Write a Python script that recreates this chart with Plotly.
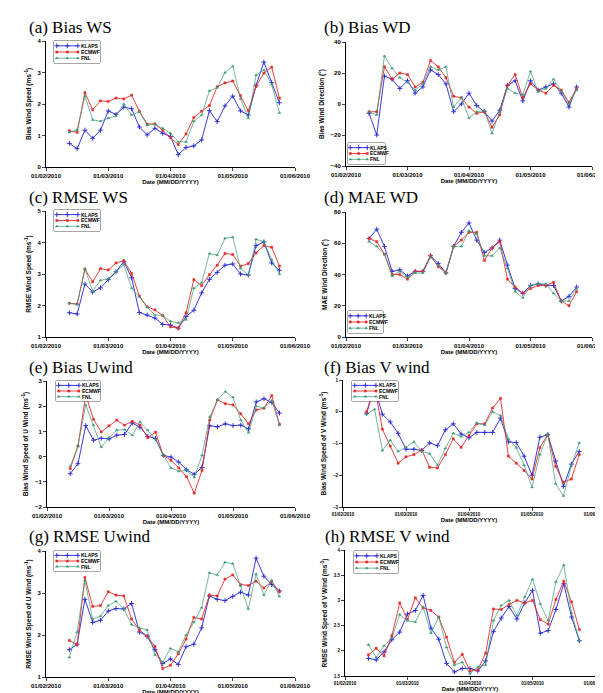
import plotly.graph_objects as go

# period index (each step ~ 1/8 month); tick positions mark month starts
period = [3, 4, 5, 6, 7, 8, 9, 10, 11, 12, 13, 14, 15, 16, 17, 18, 19, 20,
          21, 22, 23, 24, 25, 26, 27, 28, 29, 30]
tick_pos = [0, 8, 16, 24, 32]
tick_lab = ["01/02/2010", "01/03/2010", "01/04/2010", "01/05/2010", "01/06/2010"]
series_names = ["KLAPS", "ECMWF", "FNL"]

# (a) Bias WS
a_klaps = [0.75, 0.58, 1.17, 0.91, 1.17, 1.78, 1.67, 1.90, 1.85, 1.27, 1.02, 1.23, 1.07, 0.97,
           0.39, 0.62, 0.67, 0.86, 1.79, 1.44, 1.94, 2.25, 1.78, 1.65, 2.59, 3.33, 2.68, 2.04]
a_ecmwf = [1.15, 1.10, 2.36, 1.82, 2.10, 2.08, 2.19, 2.16, 2.28, 1.77, 1.36, 1.37, 1.16, 0.93,
           0.71, 1.05, 1.57, 1.77, 1.95, 2.55, 2.67, 2.73, 2.27, 1.78, 2.56, 2.98, 3.17, 2.18]
a_fnl = [1.10, 1.18, 2.25, 1.50, 1.45, 1.55, 1.62, 2.00, 1.65, 1.75, 1.33, 1.35, 1.23, 1.07,
         0.80, 0.80, 1.45, 1.65, 2.42, 2.52, 3.00, 3.20, 2.17, 1.55, 2.92, 3.08, 2.62, 1.72]

# (b) Bias WD
b_klaps = [-6, -20, 18, 16, 10, 15, 7, 11, 22, 19, 13, -5, 0, 7,
           -1, -5, -11, -4, 12, 15, 2, 15, 9, 11, 13, 7, -2, 11]
b_ecmwf = [-5, -5, 24, 16, 20, 19, 11, 14, 28, 24, 17, 5, 4, -2,
           -6, -5, -15, -7, 12, 19, 4, 13, 9, 7, 12, 9, 1, 10]
b_fnl = [-5, -7, 31, 23, 17, 14, 9, 13, 24, 22, 24, -2, 4, -9,
         -5, -4, -19, -5, 10, 7, 6, 21, 8, 10, 16, 8, 0, 9]

# (c) RMSE WS
c_klaps = [1.77, 1.73, 2.68, 2.43, 2.56, 2.82, 3.07, 3.40, 2.88, 1.78, 1.70, 1.60, 1.40, 1.38,
           1.28, 1.65, 1.85, 2.40, 2.83, 3.05, 3.28, 3.32, 3.00, 2.97, 3.90, 4.02, 3.35, 3.12]
c_ecmwf = [2.07, 2.05, 3.15, 2.75, 3.17, 3.13, 3.35, 3.42, 3.02, 2.30, 1.96, 1.86, 1.68, 1.32,
           1.28, 1.77, 2.82, 2.63, 2.98, 3.28, 3.65, 3.62, 3.25, 3.33, 3.67, 3.90, 3.85, 3.25]
c_fnl = [2.07, 2.03, 3.17, 2.45, 2.80, 2.85, 3.07, 3.30, 2.55, 2.28, 1.94, 1.70, 1.68, 1.50,
         1.45, 1.55, 2.55, 2.73, 3.65, 3.60, 4.13, 4.17, 3.18, 2.97, 4.10, 4.03, 3.45, 3.00]

# (d) MAE WD
d_klaps = [63, 69, 58, 42, 43, 39, 42, 42, 52, 47, 41, 58, 67, 73,
           62, 54, 57, 62, 46, 31, 28, 33, 34, 33, 33, 23, 26, 32]
d_ecmwf = [63, 61, 53, 40, 40, 37, 42, 42, 52, 45, 41, 58, 62, 67,
           67, 49, 57, 61, 37, 32, 28, 31, 33, 33, 35, 23, 20, 29]
d_fnl = [61, 58, 53, 39, 42, 38, 41, 41, 51, 46, 41, 58, 58, 68,
         66, 52, 52, 57, 44, 29, 25, 33, 34, 34, 28, 23, 23, 31]

# (e) Bias Uwind
e_klaps = [-0.68, -0.28, 1.23, 0.65, 0.73, 0.70, 0.85, 0.88, 1.33, 1.17, 0.80, 0.72, 0.05, -0.02,
           -0.22, -0.52, -0.70, -0.43, 1.23, 1.18, 1.30, 1.23, 1.25, 1.10, 2.17, 2.30, 2.15, 1.73]
e_ecmwf = [-0.48, 0.42, 2.45, 1.48, 0.98, 1.22, 1.45, 1.25, 1.40, 1.25, 0.75, 0.97, 0.05, -0.15,
           -0.45, -0.80, -1.45, -0.55, 1.45, 2.25, 2.10, 2.05, 1.70, 1.30, 1.85, 1.92, 2.42, 1.28]
e_fnl = [-0.38, 0.42, 2.05, 1.25, 0.38, 0.75, 1.05, 1.07, 0.85, 1.38, 1.05, 0.68, 0.08, -0.45,
         -0.58, -0.55, -0.82, 0.05, 1.58, 2.25, 2.58, 2.35, 1.45, 0.95, 2.00, 1.93, 2.22, 1.25]

# (f) Bias V wind
f_klaps = [-0.05, 0.78, -0.08, -0.32, -0.68, -1.18, -1.18, -1.22, -0.98, -1.07, -0.57, -0.38, -0.70, -0.82,
           -0.65, -0.65, -0.65, -0.20, -0.95, -0.97, -1.40, -2.00, -0.80, -0.72, -1.55, -2.35, -1.65, -1.25]
f_ecmwf = [0.00, 0.82, -0.55, -1.08, -1.62, -1.42, -1.35, -1.20, -1.75, -1.77, -1.35, -0.85, -1.12, -0.75,
           -0.38, -0.38, 0.12, 0.42, -1.40, -1.62, -1.85, -2.12, -1.13, -0.72, -1.72, -2.22, -2.12, -1.35]
f_fnl = [-0.08, 0.08, -1.22, -0.90, -1.25, -1.12, -0.95, -1.25, -1.32, -1.68, -1.15, -0.68, -0.78, -0.65,
         -0.35, -0.42, 0.00, -0.12, -0.85, -1.13, -1.68, -2.38, -1.35, -0.70, -2.27, -2.65, -1.70, -0.98]

# (g) RMSE Uwind
g_klaps = [1.65, 1.78, 2.85, 2.30, 2.35, 2.57, 2.63, 2.62, 2.75, 2.07, 1.97, 1.65, 1.32, 1.43,
           1.30, 1.72, 1.78, 2.17, 2.93, 2.85, 2.82, 2.92, 3.02, 2.95, 3.83, 3.40, 3.20, 3.05]
g_ecmwf = [1.87, 1.77, 3.37, 2.68, 2.70, 3.03, 2.95, 2.93, 2.38, 2.12, 1.97, 1.73, 1.20, 1.28,
           1.55, 1.90, 2.42, 2.38, 2.95, 2.93, 3.33, 3.43, 3.20, 3.18, 3.28, 3.12, 3.27, 3.03]
g_fnl = [1.47, 2.07, 3.30, 2.38, 2.45, 2.70, 2.80, 2.62, 2.25, 2.17, 2.12, 1.53, 1.35, 1.68,
         1.60, 2.00, 2.30, 2.65, 3.48, 3.43, 3.73, 3.70, 3.17, 2.62, 3.45, 2.95, 3.30, 2.92]

# (h) RMSE V wind
h_klaps = [1.85, 1.82, 1.98, 2.22, 2.37, 2.73, 2.80, 3.10, 2.45, 2.23, 1.75, 1.58, 1.65, 1.65,
           1.60, 1.80, 2.38, 2.65, 2.88, 2.63, 2.95, 3.20, 2.35, 2.40, 2.82, 3.33, 2.67, 2.20]
h_ecmwf = [1.92, 2.05, 1.90, 2.30, 2.95, 2.62, 3.05, 2.85, 2.80, 2.67, 2.27, 1.77, 1.93, 1.60,
           1.62, 1.95, 2.83, 2.82, 2.92, 3.00, 2.95, 3.00, 2.62, 2.53, 3.02, 3.38, 2.97, 2.42]
h_fnl = [2.12, 1.87, 2.10, 2.25, 2.72, 2.60, 2.57, 2.87, 2.35, 2.67, 2.07, 1.72, 1.77, 1.55,
         1.68, 1.72, 2.60, 2.90, 3.00, 2.70, 3.07, 3.42, 2.93, 2.60, 3.37, 3.70, 2.75, 2.20]

W, H = 603, 693

panels = [
    dict(title="(a) Bias WS", ytitle="Bias Wind Speed (ms<sup>-1</sup>)", data=(a_klaps, a_ecmwf, a_fnl),
         yr=[0, 4], dt=1, box=(38, 287, 33, 159), tpos=(19, 19), leg=(46, 33, 92, 55), tf=6),
    dict(title="(b) Bias WD", ytitle="Bias Wind Direction (°)", data=(b_klaps, b_ecmwf, b_fnl),
         yr=[-40, 40], dt=20, box=(338, 584, 34, 158), tpos=(314, 19), leg=(340, 135, 377, 156), tf=6),
    dict(title="(c) RMSE WS", ytitle="RMSE Wind Speed (ms<sup>-1</sup>)", data=(c_klaps, c_ecmwf, c_fnl),
         yr=[1, 5], dt=1, box=(38, 287, 203, 329), tpos=(19, 189), leg=(46, 202, 92, 223), tf=6),
    dict(title="(d) MAE WD", ytitle="MAE Wind Direction (°)", data=(d_klaps, d_ecmwf, d_fnl),
         yr=[0, 80], dt=20, box=(338, 584, 204, 329), tpos=(314, 189), leg=(340, 303, 375, 325), tf=6),
    dict(title="(e) Bias Uwind", ytitle="Bias Wind Speed of U Wind (ms<sup>-1</sup>)", data=(e_klaps, e_ecmwf, e_fnl),
         yr=[-2, 3], dt=1, box=(39, 287, 373, 499), tpos=(19, 359), leg=(48, 373, 92, 393), tf=6),
    dict(title="(f) Bias V wind", ytitle="Bias Wind Speed of V Wind (ms<sup>-1</sup>)", data=(f_klaps, f_ecmwf, f_fnl),
         yr=[-3, 1], dt=1, box=(335, 587, 372, 499), tpos=(314, 359), leg=(344, 373, 390, 393), tf=4.5),
    dict(title="(g) RMSE Uwind", ytitle="RMSE Wind Speed of U Wind (ms<sup>-1</sup>)", data=(g_klaps, g_ecmwf, g_fnl),
         yr=[1, 4], dt=1, box=(38, 287, 543, 669), tpos=(19, 528), leg=(46, 543, 92, 563), tf=6),
    dict(title="(h) RMSE V wind", ytitle="RMSE Wind Speed of V Wind (ms<sup>-1</sup>)", data=(h_klaps, h_ecmwf, h_fnl),
         yr=[1.5, 4], dt=0.5, box=(337, 587, 542, 668), tpos=(315, 528), leg=(346, 543, 390, 565), tf=4.5),
]

styles = [
    dict(color="#2323d8", symbol="cross-thin", size=3.5, width=0.9, mlw=0.9),
    dict(color="#e62b2b", symbol="square", size=2.2, width=0.9, mlw=0.4),
    dict(color="#3a9a70", symbol="triangle-up", size=2.6, width=0.7, mlw=0.4),
]

fig = go.Figure()
layout = dict(width=W, height=H, margin=dict(l=0, r=0, t=0, b=0),
              paper_bgcolor="white", plot_bgcolor="white", showlegend=False,
              annotations=[], shapes=[])
FAM = "Arial, Liberation Sans"

for i, p in enumerate(panels):
    n = i + 1
    xa = "xaxis" if n == 1 else f"xaxis{n}"
    ya = "yaxis" if n == 1 else f"yaxis{n}"
    xr = "x" if n == 1 else f"x{n}"
    yr = "y" if n == 1 else f"y{n}"
    x0, x1, yt, yb = p["box"]
    tickfont = dict(family=FAM, size=p["tf"], color="black", weight="bold")
    layout[xa] = dict(domain=[x0 / W, x1 / W], anchor=yr, range=[0, 32], automargin=False,
                      tickvals=tick_pos, ticktext=tick_lab, showline=True, linecolor="black",
                      linewidth=1, ticks="outside", ticklen=3, tickwidth=1, showgrid=False,
                      zeroline=False, tickfont=tickfont,
                      title=dict(text="Date (MM/DD/YYYY)", standoff=0,
                                 font=dict(family=FAM, size=6, weight="bold", color="black")))
    layout[ya] = dict(domain=[1 - yb / H, 1 - yt / H], anchor=xr, range=p["yr"], dtick=p["dt"],
                      automargin=False,
                      showline=True, linecolor="black", linewidth=1, ticks="outside", ticklen=3,
                      tickwidth=1, showgrid=False, zeroline=False, tickfont=tickfont,
                      title=dict(text=p["ytitle"], standoff=5,
                                 font=dict(family=FAM, size=6.5, weight="bold", color="black")))
    layout["annotations"].append(dict(text=p["title"], x=p["tpos"][0] / W, y=1 - p["tpos"][1] / H,
                                      xref="paper", yref="paper", xanchor="left", yanchor="middle",
                                      showarrow=False,
                                      font=dict(family="Liberation Serif", size=17, color="black")))
    for name, vals, st in zip(series_names, p["data"], styles):
        fig.add_trace(go.Scatter(x=period, y=vals, name=name, mode="lines+markers",
                                 xaxis=xr, yaxis=yr, showlegend=False,
                                 line=dict(color=st["color"], width=st["width"]),
                                 marker=dict(symbol=st["symbol"], size=st["size"], color=st["color"],
                                             line=dict(color=st["color"], width=st["mlw"]))))

    # hand-drawn legend box in its own hidden axes
    m = n + 8
    lxa, lya, lxr, lyr = f"xaxis{m}", f"yaxis{m}", f"x{m}", f"y{m}"
    lx0, ly0, lx1, ly1 = p["leg"]
    layout[lxa] = dict(domain=[lx0 / W, lx1 / W], anchor=lyr, range=[0, 1], visible=False, fixedrange=True)
    layout[lya] = dict(domain=[1 - ly1 / H, 1 - ly0 / H], anchor=lxr, range=[0, 1], visible=False, fixedrange=True)
    layout["shapes"].append(dict(type="rect", xref=f"{lxr} domain", yref=f"{lyr} domain",
                                 x0=0, x1=1, y0=0, y1=1, line=dict(color="black", width=0.7),
                                 fillcolor="white", layer="below"))
    rows = [0.78, 0.5, 0.22]
    for name, st, ry in zip(series_names, styles, rows):
        fig.add_trace(go.Scatter(x=[0.06, 0.29, 0.52], y=[ry, ry, ry], mode="lines+markers",
                                 xaxis=lxr, yaxis=lyr, showlegend=False, hoverinfo="skip",
                                 line=dict(color=st["color"], width=st["width"]),
                                 marker=dict(symbol=st["symbol"], size=st["size"], color=st["color"],
                                             line=dict(color=st["color"], width=st["mlw"]))))
        layout["annotations"].append(dict(text=name, x=0.54, y=ry, xref=lxr, yref=lyr,
                                          xanchor="left", yanchor="middle", showarrow=False,
                                          font=dict(family=FAM, size=5, weight="bold", color="black")))

fig.update_layout(**layout)
fig.write_html("out.html")
